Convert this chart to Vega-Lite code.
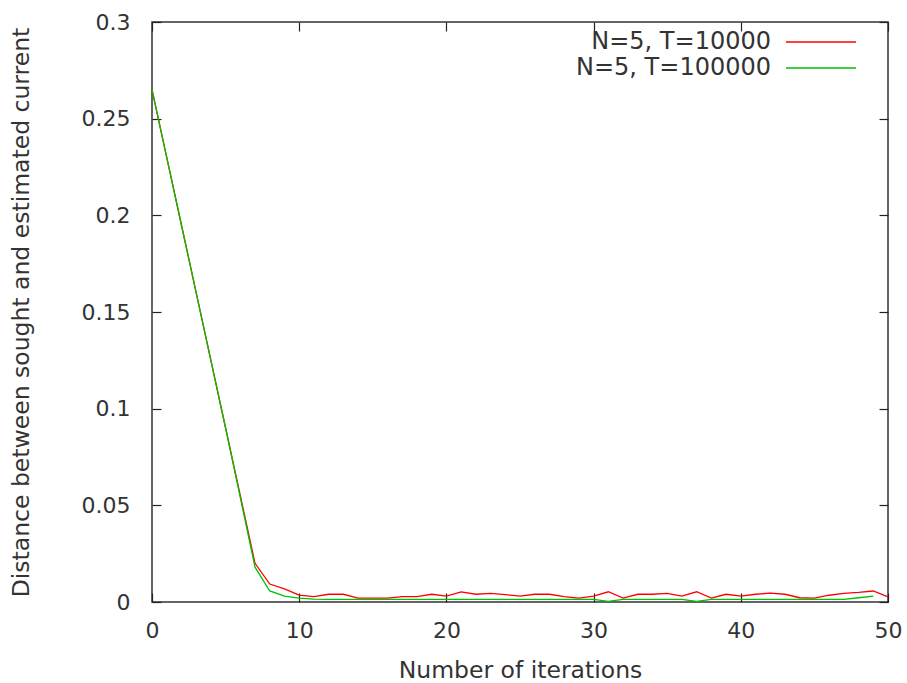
{
  "$schema": "https://vega.github.io/schema/vega-lite/v6.json",
  "width": 736,
  "height": 580,
  "autosize": {"type": "none"},
  "padding": {"left": 152, "top": 22, "right": 19, "bottom": 81},
  "background": "white",
  "config": {
    "font": "DejaVu Sans",
    "view": {"stroke": "#333333", "strokeWidth": 1.5},
    "axis": {
      "domain": false,
      "grid": false,
      "tickSize": -9,
      "tickWidth": 1.2,
      "tickColor": "#222222",
      "labelFontSize": 22,
      "labelColor": "#333333",
      "labelFont": "DejaVu Sans",
      "labelFlush": false,
      "titleFontSize": 23.5,
      "titleFontWeight": "normal",
      "titleColor": "#333333",
      "titleFont": "DejaVu Sans"
    }
  },
  "datasets": {
    "curves": [
      {"iter": 0, "dist": 0.265, "series": "N=5, T=10000"},
      {"iter": 1, "dist": 0.230, "series": "N=5, T=10000"},
      {"iter": 2, "dist": 0.195, "series": "N=5, T=10000"},
      {"iter": 3, "dist": 0.160, "series": "N=5, T=10000"},
      {"iter": 4, "dist": 0.125, "series": "N=5, T=10000"},
      {"iter": 5, "dist": 0.090, "series": "N=5, T=10000"},
      {"iter": 6, "dist": 0.055, "series": "N=5, T=10000"},
      {"iter": 7, "dist": 0.020, "series": "N=5, T=10000"},
      {"iter": 8, "dist": 0.0093, "series": "N=5, T=10000"},
      {"iter": 9, "dist": 0.0068, "series": "N=5, T=10000"},
      {"iter": 10, "dist": 0.0036, "series": "N=5, T=10000"},
      {"iter": 11, "dist": 0.0028, "series": "N=5, T=10000"},
      {"iter": 12, "dist": 0.004, "series": "N=5, T=10000"},
      {"iter": 13, "dist": 0.004, "series": "N=5, T=10000"},
      {"iter": 14, "dist": 0.002, "series": "N=5, T=10000"},
      {"iter": 15, "dist": 0.002, "series": "N=5, T=10000"},
      {"iter": 16, "dist": 0.002, "series": "N=5, T=10000"},
      {"iter": 17, "dist": 0.0028, "series": "N=5, T=10000"},
      {"iter": 18, "dist": 0.0028, "series": "N=5, T=10000"},
      {"iter": 19, "dist": 0.004, "series": "N=5, T=10000"},
      {"iter": 20, "dist": 0.003, "series": "N=5, T=10000"},
      {"iter": 21, "dist": 0.0052, "series": "N=5, T=10000"},
      {"iter": 22, "dist": 0.004, "series": "N=5, T=10000"},
      {"iter": 23, "dist": 0.0045, "series": "N=5, T=10000"},
      {"iter": 24, "dist": 0.0038, "series": "N=5, T=10000"},
      {"iter": 25, "dist": 0.003, "series": "N=5, T=10000"},
      {"iter": 26, "dist": 0.004, "series": "N=5, T=10000"},
      {"iter": 27, "dist": 0.004, "series": "N=5, T=10000"},
      {"iter": 28, "dist": 0.0028, "series": "N=5, T=10000"},
      {"iter": 29, "dist": 0.002, "series": "N=5, T=10000"},
      {"iter": 30, "dist": 0.003, "series": "N=5, T=10000"},
      {"iter": 31, "dist": 0.0053, "series": "N=5, T=10000"},
      {"iter": 32, "dist": 0.002, "series": "N=5, T=10000"},
      {"iter": 33, "dist": 0.004, "series": "N=5, T=10000"},
      {"iter": 34, "dist": 0.004, "series": "N=5, T=10000"},
      {"iter": 35, "dist": 0.0045, "series": "N=5, T=10000"},
      {"iter": 36, "dist": 0.003, "series": "N=5, T=10000"},
      {"iter": 37, "dist": 0.0053, "series": "N=5, T=10000"},
      {"iter": 38, "dist": 0.002, "series": "N=5, T=10000"},
      {"iter": 39, "dist": 0.004, "series": "N=5, T=10000"},
      {"iter": 40, "dist": 0.003, "series": "N=5, T=10000"},
      {"iter": 41, "dist": 0.004, "series": "N=5, T=10000"},
      {"iter": 42, "dist": 0.0046, "series": "N=5, T=10000"},
      {"iter": 43, "dist": 0.004, "series": "N=5, T=10000"},
      {"iter": 44, "dist": 0.0022, "series": "N=5, T=10000"},
      {"iter": 45, "dist": 0.002, "series": "N=5, T=10000"},
      {"iter": 46, "dist": 0.0035, "series": "N=5, T=10000"},
      {"iter": 47, "dist": 0.0045, "series": "N=5, T=10000"},
      {"iter": 48, "dist": 0.005, "series": "N=5, T=10000"},
      {"iter": 49, "dist": 0.0057, "series": "N=5, T=10000"},
      {"iter": 50, "dist": 0.0027, "series": "N=5, T=10000"},
      {"iter": 0, "dist": 0.265, "series": "N=5, T=100000"},
      {"iter": 1, "dist": 0.230, "series": "N=5, T=100000"},
      {"iter": 2, "dist": 0.195, "series": "N=5, T=100000"},
      {"iter": 3, "dist": 0.160, "series": "N=5, T=100000"},
      {"iter": 4, "dist": 0.125, "series": "N=5, T=100000"},
      {"iter": 5, "dist": 0.090, "series": "N=5, T=100000"},
      {"iter": 6, "dist": 0.054, "series": "N=5, T=100000"},
      {"iter": 7, "dist": 0.018, "series": "N=5, T=100000"},
      {"iter": 8, "dist": 0.0057, "series": "N=5, T=100000"},
      {"iter": 9, "dist": 0.003, "series": "N=5, T=100000"},
      {"iter": 10, "dist": 0.002, "series": "N=5, T=100000"},
      {"iter": 11, "dist": 0.0015, "series": "N=5, T=100000"},
      {"iter": 12, "dist": 0.0014, "series": "N=5, T=100000"},
      {"iter": 13, "dist": 0.0014, "series": "N=5, T=100000"},
      {"iter": 14, "dist": 0.0014, "series": "N=5, T=100000"},
      {"iter": 15, "dist": 0.0014, "series": "N=5, T=100000"},
      {"iter": 16, "dist": 0.0014, "series": "N=5, T=100000"},
      {"iter": 17, "dist": 0.0014, "series": "N=5, T=100000"},
      {"iter": 18, "dist": 0.0014, "series": "N=5, T=100000"},
      {"iter": 19, "dist": 0.0014, "series": "N=5, T=100000"},
      {"iter": 20, "dist": 0.0014, "series": "N=5, T=100000"},
      {"iter": 21, "dist": 0.0014, "series": "N=5, T=100000"},
      {"iter": 22, "dist": 0.0014, "series": "N=5, T=100000"},
      {"iter": 23, "dist": 0.0014, "series": "N=5, T=100000"},
      {"iter": 24, "dist": 0.0014, "series": "N=5, T=100000"},
      {"iter": 25, "dist": 0.0014, "series": "N=5, T=100000"},
      {"iter": 26, "dist": 0.0014, "series": "N=5, T=100000"},
      {"iter": 27, "dist": 0.0014, "series": "N=5, T=100000"},
      {"iter": 28, "dist": 0.0014, "series": "N=5, T=100000"},
      {"iter": 29, "dist": 0.0014, "series": "N=5, T=100000"},
      {"iter": 30, "dist": 0.0014, "series": "N=5, T=100000"},
      {"iter": 31, "dist": 0.0003, "series": "N=5, T=100000"},
      {"iter": 32, "dist": 0.0014, "series": "N=5, T=100000"},
      {"iter": 33, "dist": 0.0014, "series": "N=5, T=100000"},
      {"iter": 34, "dist": 0.0014, "series": "N=5, T=100000"},
      {"iter": 35, "dist": 0.0014, "series": "N=5, T=100000"},
      {"iter": 36, "dist": 0.0014, "series": "N=5, T=100000"},
      {"iter": 37, "dist": 0.0003, "series": "N=5, T=100000"},
      {"iter": 38, "dist": 0.0014, "series": "N=5, T=100000"},
      {"iter": 39, "dist": 0.0014, "series": "N=5, T=100000"},
      {"iter": 40, "dist": 0.0014, "series": "N=5, T=100000"},
      {"iter": 41, "dist": 0.0014, "series": "N=5, T=100000"},
      {"iter": 42, "dist": 0.0014, "series": "N=5, T=100000"},
      {"iter": 43, "dist": 0.0014, "series": "N=5, T=100000"},
      {"iter": 44, "dist": 0.0014, "series": "N=5, T=100000"},
      {"iter": 45, "dist": 0.0014, "series": "N=5, T=100000"},
      {"iter": 46, "dist": 0.0014, "series": "N=5, T=100000"},
      {"iter": 47, "dist": 0.0014, "series": "N=5, T=100000"},
      {"iter": 48, "dist": 0.0022, "series": "N=5, T=100000"},
      {"iter": 49, "dist": 0.003, "series": "N=5, T=100000"}
    ]
  },
  "data": {"name": "curves"},
  "resolve": {"axis": {"x": "independent", "y": "independent"}},
  "layer": [
    {
      "mark": {"type": "line", "strokeWidth": 1.3, "interpolate": "linear"},
      "encoding": {
        "x": {
          "field": "iter",
          "type": "quantitative",
          "scale": {"domain": [0, 50], "nice": false, "zero": false},
          "axis": {
            "orient": "bottom",
            "values": [0, 10, 20, 30, 40, 50],
            "labelPadding": 27,
            "title": "Number of iterations",
            "titlePadding": 17
          }
        },
        "y": {
          "field": "dist",
          "type": "quantitative",
          "scale": {"domain": [0, 0.3], "nice": false},
          "axis": {
            "orient": "left",
            "values": [0, 0.05, 0.1, 0.15, 0.2, 0.25, 0.3],
            "format": ".2~f",
            "labelPadding": 31,
            "title": "Distance between sought and estimated current",
            "titlePadding": 48
          }
        },
        "color": {
          "field": "series",
          "type": "nominal",
          "scale": {
            "domain": ["N=5, T=10000", "N=5, T=100000"],
            "range": ["#ff0000", "#00c000"]
          },
          "legend": {
            "title": null,
            "orient": "none",
            "legendX": 657,
            "legendY": 8,
            "padding": 0,
            "symbolType": "M-5,0H5",
            "symbolSize": 196,
            "symbolStrokeWidth": 1.3,
            "symbolFillColor": "transparent",
            "labelAlign": "right",
            "labelOffset": -62,
            "labelFontSize": 24,
            "labelFont": "DejaVu Sans",
            "labelColor": "#333333",
            "labelLimit": 400,
            "rowPadding": 2
          }
        }
      }
    },
    {
      "mark": {"type": "point", "opacity": 0},
      "encoding": {
        "x": {
          "field": "iter",
          "type": "quantitative",
          "axis": {
            "orient": "top",
            "values": [0, 10, 20, 30, 40, 50],
            "labels": false,
            "title": null
          }
        },
        "y": {
          "field": "dist",
          "type": "quantitative",
          "axis": {
            "orient": "right",
            "values": [0, 0.05, 0.1, 0.15, 0.2, 0.25, 0.3],
            "labels": false,
            "title": null
          }
        }
      }
    }
  ]
}
